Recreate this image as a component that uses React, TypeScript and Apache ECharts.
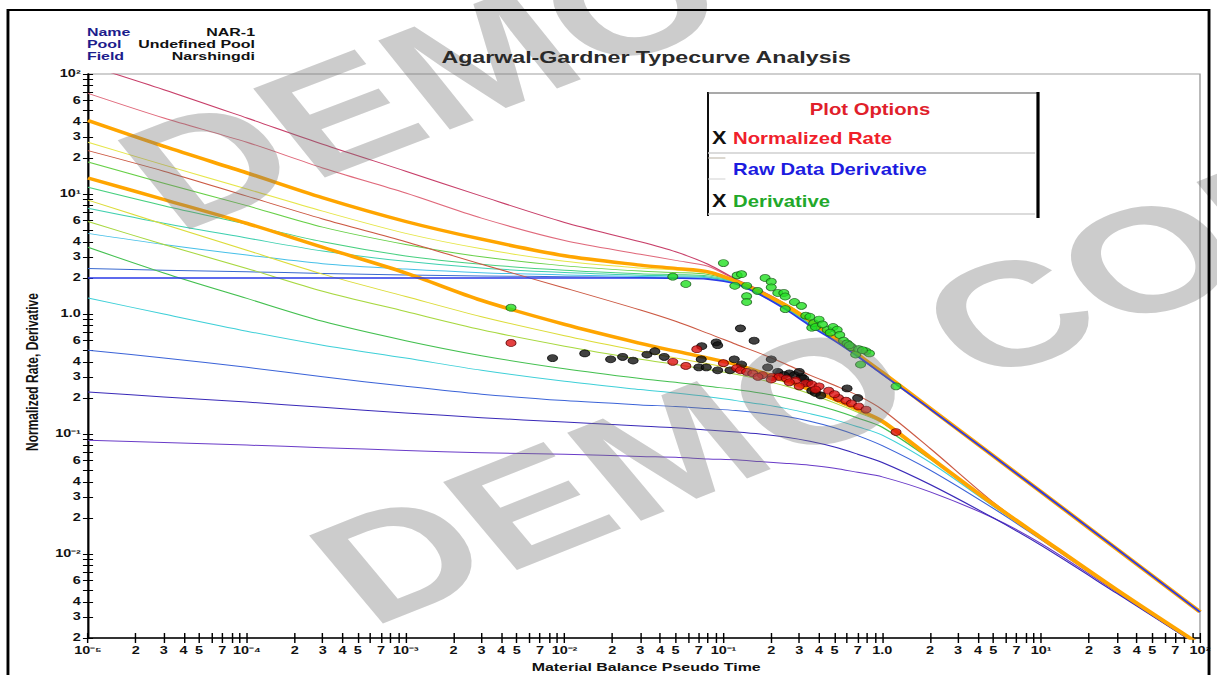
import React, { useEffect, useRef } from "react";
import * as echarts from "echarts";

const FONT = '"Liberation Sans", Arial, Helvetica, sans-serif';
const BASE_W = 840;
const H = 675;
const SX = 1217 / BASE_W; // the reference picture is stretched horizontally

// ---------- axes ----------
const X_DECADES = [-5, -4, -3, -2, -1, 0, 1, 2];
const X_DECADE_LABELS = ["10⁻⁵", "10⁻⁴", "10⁻³", "10⁻²", "10⁻¹", "1.0", "10¹", "10²"];
const X_LABELED_MANTISSAS = [2, 3, 4, 5, 7];
const Y_DECADES = [-3, -2, -1, 0, 1, 2];
const Y_DECADE_LABELS = ["10⁻³", "10⁻²", "10⁻¹", "1.0", "10¹", "10²"];
const Y_LABELED_MANTISSAS = [2, 3, 4, 6];
const ALL_MANTISSAS = [1, 2, 3, 4, 5, 6, 7, 8, 9];
const X_MIN = 1e-5;
const X_MAX = 100;
const Y_MIN = 0.002;
const Y_MAX = 100;

// ---------- type curves: derivative family, values at T_DERIV ----------
const T_DERIV = [1e-5, 3e-5, 1e-4, 3e-4, 1e-3, 3e-3, 1e-2, 3e-2, 0.05, 0.08, 0.12, 0.17, 0.25, 0.35, 0.5, 0.7, 1, 2, 10, 100];
const DERIV_RED = [118, 74, 43, 26, 15.5, 9.6, 5.8, 4.0, 3.3, 2.6, 1.95, 1.58, 1.2, 0.9, 0.645, 0.465, 0.328, 0.165, 0.033, 0.0033];
const DERIV_PINK = [69, 43, 27, 16.5, 10.2, 6.3, 4.1, 3.15, 2.8, 2.5, 1.92, 1.55, 1.19, 0.89, 0.64, 0.462, 0.327, 0.165, 0.033, 0.0033];
const DERIV_ORANGE = [41, 25, 15, 9.3, 5.9, 4.2, 3.06, 2.56, 2.4, 2.25, 1.88, 1.52, 1.17, 0.88, 0.635, 0.46, 0.326, 0.164, 0.033, 0.0033];
const DERIV_YELLOW = [27, 17.5, 11, 7.2, 4.7, 3.5, 2.75, 2.42, 2.33, 2.2, 1.86, 1.5, 1.15, 0.87, 0.63, 0.458, 0.325, 0.164, 0.033, 0.0033];
const DERIV_GREEN = [18.5, 12.3, 8.0, 5.3, 3.8, 3.0, 2.52, 2.28, 2.22, 2.14, 1.85, 1.49, 1.14, 0.86, 0.625, 0.455, 0.324, 0.164, 0.033, 0.0033];
const DERIV_LIME = [11.4, 8.0, 5.6, 4.0, 3.05, 2.6, 2.32, 2.17, 2.13, 2.08, 1.84, 1.48, 1.12, 0.85, 0.62, 0.452, 0.322, 0.163, 0.033, 0.0033];
const DERIV_TEAL = [7.6, 5.7, 4.3, 3.35, 2.75, 2.42, 2.22, 2.11, 2.08, 2.04, 1.82, 1.47, 1.11, 0.84, 0.615, 0.45, 0.32, 0.163, 0.033, 0.0033];
const DERIV_CYAN = [4.7, 3.8, 3.1, 2.63, 2.37, 2.21, 2.12, 2.06, 2.04, 2.01, 1.81, 1.46, 1.1, 0.83, 0.61, 0.448, 0.318, 0.163, 0.033, 0.0033];
const DERIV_STEEL = [2.4, 2.32, 2.25, 2.18, 2.12, 2.08, 2.05, 2.02, 2.01, 1.98, 1.8, 1.45, 1.09, 0.82, 0.605, 0.446, 0.316, 0.162, 0.033, 0.0033];
const DERIV_BLUE = [2.0, 2.0, 2.0, 2.0, 2.0, 2.0, 2.0, 2.0, 1.99, 1.95, 1.78, 1.45, 1.08, 0.8, 0.6, 0.444, 0.315, 0.162, 0.033, 0.0033];

// ---------- type curves: rate family, values at T_RATE ----------
const T_RATE = [1e-5, 3e-5, 1e-4, 3e-4, 1e-3, 3e-3, 1e-2, 3e-2, 0.05, 0.08, 0.12, 0.17, 0.25, 0.35, 0.5, 0.7, 1, 2, 5, 10, 30, 100];
const RATE_RED = [23, 15.5, 9.6, 6.2, 4.0, 2.6, 1.65, 1.08, 0.87, 0.69, 0.56, 0.47, 0.38, 0.31, 0.255, 0.21, 0.16, 0.076, 0.027, 0.0138, 0.00502, 0.00176];
const RATE_ORANGE = [13.6, 9.0, 5.7, 3.6, 2.2, 1.3, 0.82, 0.57, 0.49, 0.43, 0.38, 0.33, 0.28, 0.235, 0.195, 0.16, 0.128, 0.064, 0.026, 0.0137, 0.00502, 0.00176];
const RATE_YELLOW = [8.9, 5.6, 3.4, 2.15, 1.4, 0.95, 0.66, 0.49, 0.43, 0.385, 0.345, 0.31, 0.268, 0.23, 0.19, 0.157, 0.127, 0.064, 0.026, 0.0137, 0.00502, 0.00176];
const RATE_LIME = [5.9, 3.8, 2.4, 1.55, 1.05, 0.74, 0.54, 0.42, 0.38, 0.345, 0.315, 0.285, 0.25, 0.217, 0.182, 0.152, 0.124, 0.0635, 0.026, 0.0137, 0.00502, 0.00176];
const RATE_GREEN = [3.6, 2.2, 1.35, 0.87, 0.6, 0.45, 0.35, 0.29, 0.27, 0.25, 0.235, 0.22, 0.2, 0.18, 0.158, 0.136, 0.114, 0.062, 0.026, 0.0136, 0.00502, 0.00176];
const RATE_CYAN = [1.36, 1.0, 0.72, 0.55, 0.43, 0.34, 0.275, 0.235, 0.22, 0.205, 0.19, 0.178, 0.163, 0.148, 0.132, 0.115, 0.098, 0.058, 0.025, 0.0135, 0.005, 0.00175];
const RATE_BLUE = [0.5, 0.43, 0.36, 0.3, 0.25, 0.215, 0.19, 0.175, 0.17, 0.163, 0.157, 0.15, 0.14, 0.128, 0.113, 0.097, 0.08, 0.05, 0.024, 0.0132, 0.0049, 0.00172];
const RATE_INDIGO = [0.224, 0.204, 0.185, 0.167, 0.15, 0.137, 0.126, 0.117, 0.113, 0.108, 0.104, 0.1, 0.094, 0.087, 0.078, 0.068, 0.058, 0.038, 0.02, 0.0118, 0.0047, 0.0017];
const RATE_PURPLE = [0.089, 0.085, 0.081, 0.077, 0.073, 0.07, 0.068, 0.065, 0.064, 0.062, 0.061, 0.059, 0.057, 0.055, 0.052, 0.048, 0.044, 0.033, 0.02, 0.0122, 0.0048, 0.0017];

// ---------- measured data [t, value] ----------
const DERIVATIVE_POINTS = [[4.6e-3, 1.13], [0.048, 2.05], [0.058, 1.78], [0.1, 2.66], [0.122, 2.1], [0.13, 2.15], [0.118, 1.72], [0.14, 1.72], [0.14, 1.41], [0.14, 1.26], [0.164, 1.56], [0.183, 2.0], [0.2, 1.86], [0.2, 1.67], [0.22, 1.5], [0.24, 1.5], [0.245, 1.4], [0.28, 1.26], [0.31, 1.17], [0.245, 1.1], [0.33, 0.97], [0.35, 0.95], [0.36, 0.77], [0.37, 0.84], [0.38, 0.78], [0.45, 0.74], [0.49, 0.78], [0.52, 0.74], [0.54, 0.67], [0.57, 0.6], [0.6, 0.57], [0.64, 0.53], [0.71, 0.51], [0.79, 0.49], [0.83, 0.47], [0.68, 0.46], [0.73, 0.38], [1.22, 0.25], [0.4, 0.9], [0.42, 0.82], [0.47, 0.7], [0.62, 0.55], [0.75, 0.5]];
const RATE_POINTS = [[4.6e-3, 0.575], [0.048, 0.40], [0.058, 0.37], [0.068, 0.51], [0.1, 0.39], [0.121, 0.355], [0.128, 0.34], [0.14, 0.33], [0.153, 0.32], [0.176, 0.31], [0.203, 0.30], [0.224, 0.30], [0.249, 0.29], [0.285, 0.28], [0.33, 0.265], [0.36, 0.26], [0.40, 0.25], [0.46, 0.23], [0.53, 0.20], [0.59, 0.19], [0.64, 0.18], [0.71, 0.17], [0.79, 0.16], [1.22, 0.104], [0.3, 0.25], [0.38, 0.235], [0.5, 0.215], [0.26, 0.27], [0.2, 0.285], [0.165, 0.3]];
const RAW_POINTS = [[8.4e-3, 0.43], [0.0134, 0.47], [0.0195, 0.42], [0.0232, 0.44], [0.027, 0.41], [0.033, 0.46], [0.037, 0.49], [0.0424, 0.44], [0.0725, 0.42], [0.07, 0.36], [0.078, 0.36], [0.092, 0.34], [0.073, 0.54], [0.09, 0.58], [0.092, 0.55], [0.128, 0.76], [0.156, 0.60], [0.117, 0.42], [0.13, 0.38], [0.11, 0.34], [0.2, 0.42], [0.19, 0.36], [0.6, 0.24], [0.7, 0.2], [0.26, 0.32], [0.28, 0.31], [0.31, 0.30], [0.34, 0.27], [0.36, 0.23], [0.38, 0.22], [0.41, 0.21], [0.22, 0.33], [0.24, 0.31], [0.3, 0.33], [0.32, 0.29]];

// ---------- texts ----------
const TITLE = "Agarwal-Gardner Typecurve Analysis";
const HEADER_KEYS = ["Name", "Pool", "Field"];
const HEADER_VALUES = ["NAR-1", "Undefined Pool", "Narshingdi"];
const X_NAME = "Material Balance Pseudo Time";
const Y_NAME = "Normalized Rate, Derivative";
const LEGEND_TITLE = "Plot Options";
const LEGEND_ITEMS = ["Normalized Rate", "Raw Data Derivative", "Derivative"];
const LEGEND_CHECKED = [true, false, true];
const WATERMARK = "DEMO COPY";

const CURVES: [number[], number[], string, number][] = [
  [T_DERIV, DERIV_STEEL, "#3a6ad0", 1],
  [T_DERIV, DERIV_CYAN, "#48c0e8", 1],
  [T_DERIV, DERIV_TEAL, "#40d0b0", 1],
  [T_DERIV, DERIV_LIME, "#48d080", 1],
  [T_DERIV, DERIV_GREEN, "#68d048", 1],
  [T_DERIV, DERIV_YELLOW, "#e6e64a", 1],
  [T_DERIV, DERIV_PINK, "#e06a7c", 1],
  [T_DERIV, DERIV_RED, "#c8406a", 1],
  [T_RATE, RATE_PURPLE, "#6a3cc8", 1],
  [T_RATE, RATE_INDIGO, "#3a2ab8", 1],
  [T_RATE, RATE_BLUE, "#3c64d8", 1],
  [T_RATE, RATE_CYAN, "#40d0d8", 1],
  [T_RATE, RATE_GREEN, "#44c050", 1],
  [T_RATE, RATE_LIME, "#a8d840", 1],
  [T_RATE, RATE_YELLOW, "#dcdc3a", 1],
  [T_RATE, RATE_RED, "#cc5a44", 1],
  [T_DERIV, DERIV_ORANGE, "#ffa500", 3.4],
  [T_RATE, RATE_ORANGE, "#ffa500", 3.4],
  [T_DERIV, DERIV_BLUE, "#2a3ae8", 1.5],
];

const toXY = (ts: number[], vs: number[]) => ts.map((t, i) => [Math.log10(t), Math.log10(vs[i])]);
const ptsXY = (pts: number[][]) => pts.map(([t, v]) => [Math.log10(t), Math.log10(v)]);

function tickList(decades: number[], mantissas: number[], min: number, max: number) {
  const out: number[] = [];
  for (const d of decades)
    for (const m of mantissas) {
      const v = m * Math.pow(10, d);
      if (v >= min * 0.9999 && v <= max * 1.0001) out.push(Math.log10(m) + d);
    }
  return out;
}

function labelFor(v: number, decades: number[], labels: string[]) {
  const d = Math.floor(v + 1e-6);
  const m = Math.round(Math.pow(10, v - d));
  if (m === 1) return labels[decades.indexOf(d)];
  if (m === 10) return labels[decades.indexOf(d + 1)];
  return String(m);
}

export default function App() {
  const ref = useRef<HTMLDivElement>(null);
  useEffect(() => {
    if (!ref.current) return;
    const chart = echarts.init(ref.current, null, { renderer: "svg" });

    const xMin = Math.log10(X_MIN);
    const xMax = Math.log10(X_MAX);
    const yMin = Math.log10(2) - 3;
    const yMax = Math.log10(Y_MAX);
    const xTicks = tickList(X_DECADES, ALL_MANTISSAS, X_MIN, X_MAX);
    const xLabels = tickList(X_DECADES, [1, ...X_LABELED_MANTISSAS], X_MIN, X_MAX);
    const yTicks = tickList(Y_DECADES, ALL_MANTISSAS, Y_MIN, Y_MAX);
    const yLabels = tickList(Y_DECADES, [1, ...Y_LABELED_MANTISSAS], Y_MIN, Y_MAX);

    const labelStyle = { color: "#111", fontWeight: "bold" as const, fontSize: 10, fontFamily: FONT };
    const plotLeft = 88 / SX;
    const plotRight = BASE_W - 1200 / SX;

    const lineSeries = CURVES.map(([ts, vs, color, width]) => ({
      type: "line",
      data: toXY(ts, vs),
      showSymbol: false,
      smooth: 0.3,
      lineStyle: { color, width, join: "round" },
      silent: true,
      z: 2,
    }));

    const scatter = (pts: number[][], color: string, border: string) => ({
      type: "scatter",
      data: ptsXY(pts),
      symbol: "circle",
      symbolSize: 7,
      itemStyle: { color, borderColor: border, borderWidth: 0.7 },
      z: 4,
    });

    const F = (size: number) => `bold ${size}px ${FONT}`;
    const graphic: any[] = [];
    graphic.push({ type: "rect", z: 100, shape: { x: 5.5, y: 10, width: 829, height: 700 }, style: { fill: "none", stroke: "#000", lineWidth: 2 } });
    HEADER_KEYS.forEach((k, i) => {
      graphic.push({ type: "text", z: 100, x: 60, y: 32 + i * 12, style: { text: k, font: F(11), fill: "#1c1c8c", align: "left", verticalAlign: "middle" } });
      graphic.push({ type: "text", z: 100, x: 176, y: 32 + i * 12, style: { text: HEADER_VALUES[i], font: F(11), fill: "#111", align: "right", verticalAlign: "middle" } });
    });
    graphic.push({ type: "text", z: 100, x: 446, y: 57, style: { text: TITLE, font: F(16), fill: "#2a2a2a", align: "center", verticalAlign: "middle" } });
    graphic.push({ type: "text", z: 100, x: 446, y: 667, style: { text: X_NAME, font: F(11), fill: "#111", align: "center", verticalAlign: "middle" } });
    graphic.push({ type: "text", z: 100, x: 21.5, y: 372, rotation: Math.PI / 2, style: { text: Y_NAME, font: F(12), fill: "#111", align: "center", verticalAlign: "middle" } });
    // legend box
    const lx0 = 708 / SX, lx1 = 1038 / SX;
    graphic.push({ type: "rect", z: 40, shape: { x: lx0, y: 92, width: lx1 - lx0, height: 124 }, style: { fill: "#fff" } });
    graphic.push({ type: "line", z: 41, shape: { x1: lx0, y1: 92, x2: lx0, y2: 216 }, style: { stroke: "#000", lineWidth: 1.3 } });
    graphic.push({ type: "line", z: 41, shape: { x1: lx0, y1: 93, x2: lx1, y2: 93 }, style: { stroke: "#555", lineWidth: 1 } });
    graphic.push({ type: "line", z: 41, shape: { x1: lx1, y1: 92, x2: lx1, y2: 218 }, style: { stroke: "#000", lineWidth: 2.2 } });
    graphic.push({ type: "line", z: 41, shape: { x1: lx0, y1: 153, x2: lx1 - 2, y2: 153 }, style: { stroke: "#cfcfcf", lineWidth: 1.5 } });
    graphic.push({ type: "line", z: 41, shape: { x1: lx0, y1: 214, x2: lx1 - 2, y2: 214 }, style: { stroke: "#cfcfcf", lineWidth: 1.5 } });
    graphic.push({ type: "line", z: 41, shape: { x1: lx0, y1: 158, x2: lx0 + 12, y2: 158 }, style: { stroke: "#b8b0a0", lineWidth: 1 } });
    graphic.push({ type: "line", z: 41, shape: { x1: lx0, y1: 179, x2: lx0 + 12, y2: 179 }, style: { stroke: "#d0d0d0", lineWidth: 1 } });
    graphic.push({ type: "text", z: 42, x: 600.5, y: 109, scaleY: 1.2, style: { text: LEGEND_TITLE, font: F(14), fill: "#e0202a", align: "center", verticalAlign: "middle" } });
    const legendColors = ["#f0202a", "#1c1ce0", "#22a82a"];
    LEGEND_ITEMS.forEach((t, i) => {
      const y = 138 + i * 31.5;
      graphic.push({ type: "text", z: 42, x: 506, y, scaleY: 1.2, style: { text: t, font: F(14), fill: legendColors[i], align: "left", verticalAlign: "middle" } });
      if (LEGEND_CHECKED[i]) graphic.push({ type: "text", z: 42, x: 496.5, y, scaleY: 1.2, style: { text: "X", font: F(15), fill: "#111", align: "center", verticalAlign: "middle" } });
    });
    // watermarks
    const wm = { text: WATERMARK, font: `bold 148px ${FONT}`, fill: "rgba(120,120,120,0.38)", align: "left", verticalAlign: "middle" };
    graphic.push({ type: "text", z: 60, silent: true, x: 230, y: 584, rotation: (30 * Math.PI) / 180, style: wm });
    graphic.push({ type: "text", z: 60, silent: true, x: 97, y: 189, rotation: (29 * Math.PI) / 180, style: wm });

    chart.setOption({
      animation: false,
      backgroundColor: "#fff",
      grid: { left: plotLeft, right: plotRight, top: 74, bottom: 37, containLabel: false, show: true, borderColor: "#a0a0a0", borderWidth: 1 },
      xAxis: [
        {
          type: "value", min: xMin, max: xMax, position: "bottom",
          axisLine: { show: true, onZero: false, lineStyle: { color: "#000", width: 1.5 } },
          axisTick: { show: true, customValues: xTicks, length: 5, lineStyle: { color: "#000", width: 1 } },
          axisLabel: { show: true, customValues: xLabels, margin: 8, formatter: (v: number) => labelFor(v, X_DECADES, X_DECADE_LABELS), ...labelStyle },
          splitLine: { show: false },
        },
        {
          type: "value", min: xMin, max: xMax, position: "bottom",
          axisLine: { show: false, onZero: false },
          axisTick: { show: true, inside: true, customValues: xTicks, length: 5, lineStyle: { color: "#000", width: 1 } },
          axisLabel: { show: false },
          splitLine: { show: false },
        },
      ],
      yAxis: [
        {
          type: "value", min: yMin, max: yMax, position: "left",
          axisLine: { show: true, onZero: false, lineStyle: { color: "#000", width: 1.5 } },
          axisTick: { show: true, customValues: yTicks, length: 3.5, lineStyle: { color: "#000", width: 1 } },
          axisLabel: { show: true, customValues: yLabels, margin: 5, formatter: (v: number) => labelFor(v, Y_DECADES, Y_DECADE_LABELS), ...labelStyle },
          splitLine: { show: false },
        },
        {
          type: "value", min: yMin, max: yMax, position: "left",
          axisLine: { show: false, onZero: false },
          axisTick: { show: true, inside: true, customValues: yTicks, length: 3.5, lineStyle: { color: "#000", width: 1 } },
          axisLabel: { show: false },
          splitLine: { show: false },
        },
      ],
      series: [
        ...lineSeries,
        scatter(RAW_POINTS, "#111111", "#000"),
        scatter(RATE_POINTS, "#dd1111", "#5a0000"),
        scatter(DERIVATIVE_POINTS, "#22e022", "#1a5a1a"),
      ],
      graphic,
    });
    return () => chart.dispose();
  }, []);

  return (
    <div style={{ position: "fixed", left: 0, top: 0, width: 1217, height: H, overflow: "hidden", background: "#fff" }}>
      <div ref={ref} style={{ width: BASE_W, height: H, transform: `scaleX(${SX})`, transformOrigin: "0 0" }} />
    </div>
  );
}
